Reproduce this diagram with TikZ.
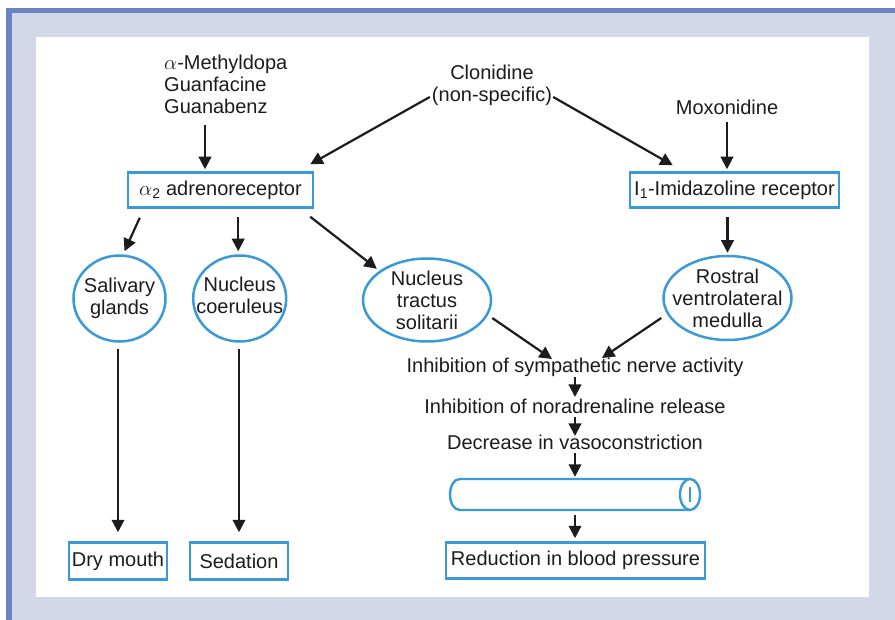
\documentclass[tikz,border=0pt]{standalone}
\usepackage{fontspec}
\setmainfont{Liberation Sans}
\usetikzlibrary{arrows.meta,shapes.geometric,calc}
\definecolor{lav}{HTML}{D2D7EA}
\definecolor{stripe}{HTML}{6B83C1}
\definecolor{boxblue}{HTML}{3A9AD8}
\definecolor{textc}{HTML}{1E1B1C}
\tikzset{
  txt/.style={text=textc, inner sep=1pt, align=center, font=\fontsize{20}{22}\selectfont},
  box/.style={txt, draw=boxblue, line width=2.5pt, fill=white, inner sep=0pt, minimum height=35pt},
  ell/.style={draw=boxblue, line width=2.5pt, ellipse, inner sep=0pt},
  lbl/.style={txt, inner sep=0pt},
  arr/.style={draw=textc, line width=2.2pt, -{Triangle[length=12.5pt,width=12.5pt]}},
  blueline/.style={draw=boxblue, line width=2.4pt}
}
\begin{document}
\begin{tikzpicture}[x=1pt,y=-1pt]
\useasboundingbox (0,0) rectangle (895,620);
% frame
\fill[white] (0,0) rectangle (895,620);
\fill[lav] (6,8) rectangle (895,620);
\fill[stripe] (6,8) rectangle (895,13);
\fill[stripe] (6,8) rectangle (12,620);
\fill[white] (36,37) rectangle (869,597);

% top texts
\node[txt, align=left, anchor=west] (meth) at (163,84) {$\alpha$-Methyldopa\\Guanfacine\\Guanabenz};
\node[txt] (clon) at (492,85) {Clonidine\\(non-specific)};
\node[txt] (mox) at (727,107) {Moxonidine};

% receptor boxes
\node[box, minimum width=185pt] (alpha) at (220.5,190) {$\alpha$\textsubscript{2} adrenoreceptor};
\node[box, minimum width=209pt] (imid) at (734.5,190) {I\textsubscript{1}-Imidazoline receptor};

% ellipses
\node[ell, minimum width=92pt, minimum height=86pt,
      label={[lbl]center:Salivary\\glands}] (sal) at (119.5,298.5) {};
\node[ell, minimum width=93pt, minimum height=86pt,
      label={[lbl, yshift=3pt]center:Nucleus\\coeruleus}] (coe) at (239.7,298.5) {};
\node[ell, minimum width=128pt, minimum height=83pt,
      label={[lbl]center:Nucleus\\tractus\\solitarii}] (nts) at (427,300) {};
\node[ell, minimum width=128pt, minimum height=84pt,
      label={[lbl]center:Rostral\\ventrolateral\\medulla}] (rvlm) at (727.5,298) {};

% chain texts
\node[txt] (ins) at (575,367) {Inhibition of sympathetic nerve activity};
\node[txt] (inn) at (575,406) {Inhibition of noradrenaline release};
\node[txt] (dec) at (575,442) {Decrease in vasoconstriction};

% cylinder
\node[inner sep=0pt, minimum width=250pt, minimum height=31pt] (cyl) at (575,494.5) {};
\draw[blueline] (690,479) -- (460,479) .. controls (446.7,479) and (446.7,510) .. (460,510) -- (690,510);
\draw[blueline, fill=white] (690,494.5) ellipse [x radius=10pt, y radius=15.5pt];
\draw[blueline] (690,487) -- (690,502);

% outcome boxes
\node[box, minimum width=259pt, minimum height=36pt] (red) at (575.5,560.5) {Reduction in blood pressure};
\node[box, minimum width=98pt, minimum height=37pt] (dry) at (118,561) {Dry mouth};
\node[box, minimum width=98pt, minimum height=37pt] (sed) at (239,561) {Sedation};

% arrows
\draw[arr] ($(meth.west)+(42,41)$) -- ($(alpha.north)+(-15.5,-2)$);
\draw[arr] ($(clon.west)+(-1,12)$) -- ($(alpha.north east)+(-4,-7)$);
\draw[arr] ($(clon.east)+(0,12)$) -- ($(imid.north west)+(44,-6)$);
\draw[arr] ($(mox)+(0,15)$) -- ($(mox |- imid.north)+(0,-2)$);

\draw[arr] ($(alpha.south west)+(13,9)$) -- ($(sal.north)+(5,-3)$);
\draw[arr] ($(alpha.south -| coe)+(-1.5,8)$) -- ($(coe.north)+(-1.5,-3)$);
\draw[arr] ($(alpha.south east)+(-4,8)$) -- ($(nts.north west)+(-4,-1)$);
\draw[arr] ($(imid.south -| rvlm)+(0,8)$) -- ($(rvlm.north)+(0,-2)$);

\draw[arr] ($(nts.east)+(0,18)$) -- ($(ins)+(-23,-8)$);
\draw[arr] ($(rvlm.west)+(-1,20)$) -- ($(ins)+(27,-9)$);
\draw[arr] ($(ins)+(0,10)$) -- ($(inn)+(0,-9)$);
\draw[arr] ($(inn)+(0,11)$) -- ($(dec)+(0,-6)$);
\draw[arr] ($(dec)+(0,11)$) -- ($(cyl.north)+(0,-2)$);
\draw[arr] ($(cyl.south)+(0,5)$) -- ($(red.north)+(-0.5,-3)$);

\draw[arr] ($(sal.south)+(-1.5,6)$) -- ($(dry.north)+(0,-9)$);
\draw[arr] ($(coe.south)+(-0.7,6)$) -- ($(sed.north)+(0,-9)$);
\end{tikzpicture}
\end{document}
